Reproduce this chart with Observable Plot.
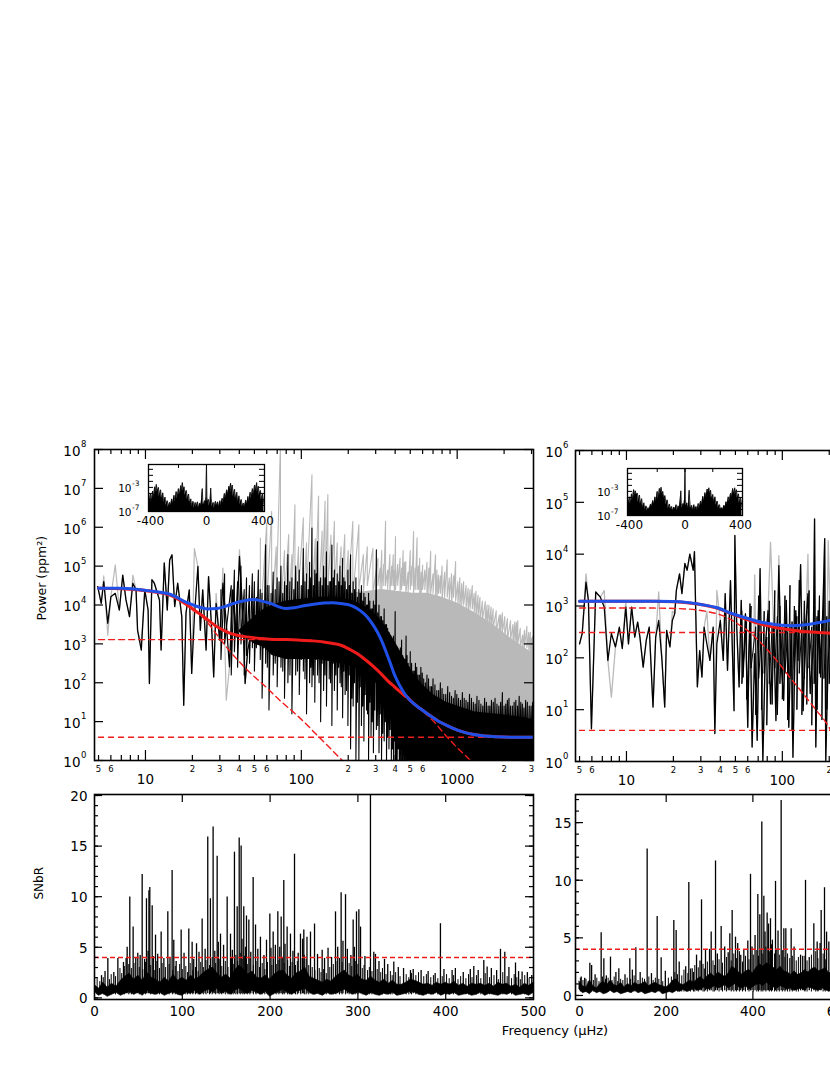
<!DOCTYPE html>
<html>
<head>
<meta charset="utf-8">
<script src="https://cdn.jsdelivr.net/npm/d3@7"></script>
<script src="https://cdn.jsdelivr.net/npm/@observablehq/plot@0.6"></script>
<style>
  html, body { margin: 0; padding: 0; background: #fff; overflow: hidden; }
  #fig { position: relative; width: 830px; height: 1075px; overflow: hidden; font-family: "DejaVu Sans", sans-serif; background: #fff; }
  #xlabel { position: absolute; left: 455px; top: 1023px; width: 200px; text-align: center; font-size: 13px; line-height: 16px; font-family: "DejaVu Sans", sans-serif; }
</style>
</head>
<body>
<div id="fig"><div id="xlabel">Frequency (μHz)</div></div>
<script>
// ======================= DATA =======================
// Power values are stored as log10(ppm^2); frequencies in μHz.

// ---- Panel A (left, log-log) ----
const aLowF = [4.94,5.2,5.4,5.73,6.0,6.4,6.8,7.15,7.5,7.9,8.3,8.7,8.9,9.4,9.9,10.4,10.6,11,11.4,12.3,12.6,13.2,13.8,14.3,14.8,15.4,16.1,17.1,17.6,18.2,19.1,19.8,20.6,21.7,22.5,23.3,24.5,25.4,26.7,27.4,28.4,29.9,31.4,33,34.6,36.3,38.2,40.1,42.2,43.6,45.3,47.6];
const aLowBlack = [4.47,4.04,4.60,3.53,4.21,4.30,3.87,4.77,4.13,3.70, 4.56,4.39,3.35,2.84,4.39,3.87,1.98,4.65,4.56,4.13, 2.84,5.08,3.87,5.16,5.29,3.96,4.56,3.70,1.42,3.79, 4.39,2.24,3.70,4.99,3.35,4.39,2.84,4.73,3.27,2.15, 4.04,3.10,4.56,3.53,2.41,4.39,3.18,5.25,3.70,1.98, 2.84,3.27];
const aLowGray = [4.47,4.04,4.75,3.22,4.21,5.03,3.87,4.77,4.13,3.70, 4.77,4.39,3.35,3.0,4.39,3.87,1.98,4.65,4.56,4.13, 2.84,5.08,3.87,5.16,5.29,3.96,4.56,3.70,1.42,3.79, 4.39,2.24,5.45,4.99,3.35,4.39,2.84,4.73,3.27,2.15, 4.3,3.10,4.95,1.55,2.41,4.39,3.18,5.42,3.70,1.98, 2.84,3.27];

// gray (uncorrected) dense part: solid core + [f, low, high] excursions
const aGrayBandF  = [100,150,200,260,330,420,520,650,800,1000,1300,1700,2200,2700,3088];
const aGrayBandHi = [4.0,4.2,4.3,4.35,4.4,4.35,4.3,4.3,4.2,4.05,3.8,3.5,3.15,2.9,2.75];
const aGrayBandLo = [3.0,3.0,3.0,3.0,1.5,1.0,1.0,1.0,1.0,1.0,1.0,1.0,1.0,1.0,1.0];
const aGraySpikes = [[54.6,3.6,5.72],[60,4.0,6.11],[64.5,3.7,6.41],[69,4.1,5.5],[73.5,3.8,8.2],[78,4.2,5.4],[83,3.9,5.81],[87,4.3,5.3],[91,4.0,6.58],[96,4.4,5.5],[103,4.0,6.24],[108,4.3,5.6],[117,4.1,7.35],[123,4.4,5.7],[129,4.0,6.80],[136,4.3,5.9],[142,4.1,6.67],[148,4.4,6.84],[155,4.2,5.8],[163,4.4,6.15],[170,4.1,5.6],[180,4.3,5.5],[190,4.2,5.81],[200,4.4,5.4],[214,4.2,6.15],[234,4.4,6.06],[250,4.3,5.3],[265,4.5,5.5],[288,4.3,5.46],[310,4.5,5.2],[328,4.4,5.4],[347,4.5,6.15],[370,4.3,5.3],[389,4.5,5.29],[402,4.4,5.76],[430,4.3,5.2],[450,4.5,5.4],[468,4.3,5.12],[500,4.4,5.4],[525,4.3,5.89],[553,4.4,5.73],[575,4.2,5.2],[600,4.4,5.03],[640,4.2,5.1],[676,4.3,5.38],[726,4.2,5.29],[759,4.3,4.77],[800,4.1,5.0],[863,4.2,5.16],[920,4.0,4.8],[977,4.1,5.12],[1040,3.9,4.7],[1100,4.0,4.6],[1175,3.8,4.43],[1250,3.9,4.5],[1320,3.7,4.35],[1400,3.6,4.2],[1514,3.5,4.09],[1600,3.4,4.0],[1700,3.4,3.9],[1862,3.2,3.74],[1950,3.3,3.8],[2100,3.1,3.65],[2344,3.0,3.57],[2450,3.0,3.6],[2630,2.8,3.23],[2800,2.9,3.45],[2950,2.8,3.3],[3050,2.7,3.2]];
const aGrayFill = [[320,4.4,4.95],[338,4.5,5.05],[358,4.4,4.9],[380,4.5,5.0],[395,4.3,4.9],[415,4.5,5.05],[440,4.4,4.95],[459,4.5,5.1],[484,4.3,4.85],[512,4.5,5.0],[538,4.4,4.95],[564,4.4,5.0],[588,4.3,4.85],[620,4.4,4.9],[658,4.3,4.95],[700,4.3,4.8],[742,4.2,4.9],[780,4.3,4.75],[830,4.2,4.85],[890,4.1,4.7],[948,4.2,4.75],[1010,4.0,4.6],[1070,4.0,4.55],[1140,3.9,4.5],[1210,3.9,4.4],[1285,3.8,4.3],[1360,3.7,4.25],[1450,3.6,4.1],[1555,3.5,4.0],[1650,3.4,3.95],[1780,3.3,3.85],[1900,3.3,3.75],[2020,3.2,3.7],[2200,3.1,3.6],[2280,3.0,3.5],[2400,3.0,3.55],[2540,2.9,3.4],[2700,2.9,3.35],[2880,2.8,3.3],[3000,2.8,3.15]];

// black (corrected) dense part: solid core + [f, low, high] excursions
const aBlackBandF  = [40,50,58,65,80,100,130,170,220,260,300,340,380,420,470,530,600,700,850,1000,1300,1700,2200,2700,3088];
const aBlackBandHi = [3.35,3.7,3.9,4.0,4.1,4.15,4.2,4.2,4.1,3.95,3.75,3.5,3.2,2.9,2.55,2.2,1.95,1.7,1.5,1.4,1.25,1.2,1.15,1.1,1.05];
const aBlackBandLo = [3.3,3.0,2.9,2.7,2.6,2.6,2.6,2.5,2.4,2.2,2.0,1.7,1.3,0.9,0.4,-0.5,-0.5,-0.5,-0.5,-0.5,-0.5,-0.5,-0.5,-0.5,-0.5];
const aBlackSpikes = [[50,2.3,4.6],[53,3.0,4.9],[56,1.6,4.3],[59,2.5,5.55],[62,1.3,4.5],[66,2.2,4.85],[70,1.9,4.7],[74,2.4,5.0],[78,1.6,4.6],[82,2.0,5.3],[87,1.2,4.7],[92,2.2,5.0],[97,1.7,4.9],[103,2.3,5.45],[108,1.2,4.8],[113,2.0,5.1],[117,1.9,5.98],[122,1.5,4.9],[127,2.2,5.63],[133,1.0,4.7],[139,1.8,5.0],[145,1.4,5.37],[151,2.1,4.6],[157,0.9,5.54],[163,1.8,4.9],[170,1.3,4.8],[177,2.0,5.0],[184,1.1,5.2],[191,1.7,4.6],[199,0.9,4.9],[207,0.3,5.29],[215,1.4,4.6],[224,0.0,4.7],[234,0.0,4.4],[243,0.9,4.5],[252,0.5,4.3],[262,1.3,4.0],[270,0.0,4.3],[280,0.6,3.9],[290,0.2,4.1],[303,0.8,5.42],[315,0.2,4.0],[327,0.0,3.7],[340,0.5,3.9],[352,0.0,3.5],[365,0.3,3.3],[378,0.0,3.1],[390,0.0,3.2],[400,0.0,3.83],[412,0.0,2.9],[425,0.0,2.7],[440,0.0,3.1],[455,0.0,2.6],[470,0.0,3.2],[485,0.0,2.5],[500,0.0,2.8],[520,0.0,2.3],[540,0.0,2.5],[560,0.0,2.2],[585,0.0,2.4],[610,0.0,2.1],[640,0.0,2.2],[670,0.0,1.9],[700,0.0,2.1],[740,0.0,1.8],[780,0.0,2.0],[820,0.0,1.7],[870,0.0,1.9],[920,0.0,1.65],[970,0.0,1.8],[1020,0.0,1.6],[1080,0.0,1.75],[1140,0.0,1.55],[1200,0.0,1.7],[1270,0.0,1.5],[1340,0.0,1.65],[1420,0.0,1.45],[1500,0.0,1.6],[1580,0.0,1.4],[1660,0.0,1.55],[1750,0.0,1.6],[1850,0.0,1.4],[1950,0.0,1.75],[2050,0.0,1.45],[2150,0.0,1.6],[2260,0.0,1.4],[2380,0.0,1.55],[2500,0.0,1.65],[2620,0.0,1.45],[2750,0.0,1.55],[2900,0.0,1.4],[3050,0.0,1.5]];
const aBlackFill = [[30.5,2.6,4.4],[32.2,3.0,4.8],[35.5,2.2,4.5],[37.2,2.8,4.9],[39,2.4,4.6],[41,3.0,5.0],[43,2.2,4.4],[44.5,2.7,4.7],[46.5,2.5,4.5],[48.5,2.9,4.8],[51.5,2.9,4.2],[54.5,2.6,4.4],[57.5,2.9,4.1],[60.5,2.4,4.5],[64,2.8,4.3],[68,2.5,4.4],[72,2.9,4.6],[76,2.3,4.3],[80,2.7,4.5],[84.5,2.2,4.6],[89.5,2.8,4.4],[94.5,2.3,4.6],[100,2.6,4.5],[105.5,2.1,4.6],[110.5,2.7,4.4],[115,2.4,4.7],[119.5,2.2,4.5],[124.5,2.6,4.8],[130,2.0,4.6],[136,2.5,4.5],[142,2.2,4.7],[148,2.6,4.5],[154,2.0,4.6],[160,2.5,4.7],[166.5,2.2,4.5],[173.5,2.4,4.6],[180.5,1.9,4.5],[187.5,2.3,4.7],[195,1.8,4.4],[203,2.2,4.5],[211,1.6,4.3],[219.5,2.0,4.4],[229,1.5,4.2],[238.5,1.9,4.3],[247.5,1.4,4.1],[257,1.7,4.2],[266,1.2,4.0],[275,1.5,4.1],[285,1.0,3.9],[296,1.3,4.0],[309,0.9,3.8],[321,1.2,3.7],[333,0.7,3.6],[346,1.0,3.5],[358,0.6,3.4],[371,0.8,3.2],[384,0.3,3.1],[395,0.5,3.0],[406,0.0,2.9],[418,0.3,2.8],[432,0.0,2.9],[447,0.0,2.7],[462,0.0,2.6],[477,0.0,2.7],[492,0.0,2.4],[510,0.0,2.5],[530,0.0,2.3],[550,0.0,2.4],[572,0.0,2.2],[597,0.0,2.25],[625,0.0,2.0],[655,0.0,2.1],[685,0.0,1.9],[720,0.0,1.95],[760,0.0,1.8],[800,0.0,1.85],[845,0.0,1.7],[895,0.0,1.75],[945,0.0,1.6],[995,0.0,1.7],[1050,0.0,1.55],[1110,0.0,1.6],[1170,0.0,1.5],[1235,0.0,1.6],[1305,0.0,1.45],[1380,0.0,1.55],[1460,0.0,1.4],[1540,0.0,1.5],[1620,0.0,1.4],[1705,0.0,1.5],[1800,0.0,1.45],[1900,0.0,1.5],[2000,0.0,1.4],[2100,0.0,1.55],[2200,0.0,1.4],[2320,0.0,1.5],[2440,0.0,1.4],[2560,0.0,1.5],[2680,0.0,1.35],[2820,0.0,1.5],[2980,0.0,1.4]];

const aBlueF = [5,7,10.3,14.5,18.5,22,24.9,28.8,33,36.9,43,49.6,56,63.4,71,79,90,104,120,139,160,178,200,217,240,264,285,307,330,356,375,393,413,433,455,478,520,582,660,745,850,951,1100,1278,1500,1806,2300,3088];
const aBlueP = [4.43,4.43,4.37,4.27,4.06,3.95,3.90,3.91,3.97,4.04,4.11,4.14,4.10,4.04,3.96,3.91,3.93,3.98,4.02,4.05,4.06,4.04,4.01,3.96,3.85,3.70,3.52,3.31,3.05,2.71,2.47,2.24,2.05,1.89,1.75,1.63,1.48,1.33,1.17,1.03,0.91,0.82,0.73,0.67,0.63,0.61,0.60,0.60];
const aRedF = [5,7,10.3,14.5,18.5,21,23.7,26,28.8,32,35,40,45,55,63.4,80,94,115,139,160,178,200,228,260,292,325,356,395,433,478,520,582,660,745,850,951,1100,1278,1500,1806,2300,3088];
const aRedP = [4.43,4.42,4.36,4.25,4.00,3.84,3.70,3.57,3.44,3.34,3.27,3.21,3.18,3.14,3.12,3.11,3.10,3.08,3.05,3.01,2.97,2.88,2.75,2.58,2.41,2.23,2.06,1.90,1.76,1.63,1.48,1.33,1.17,1.03,0.91,0.82,0.73,0.67,0.63,0.61,0.60,0.60];
const aComp1F = [5,8,10,13,16,19,21.5,25,28.8,35,45,57.4,75,94,130,183,210];
const aComp1P = [4.43,4.42,4.40,4.30,4.17,4.0,3.83,3.55,3.23,2.80,2.33,1.94,1.5,1.16,0.60,0.0,-0.25];
const aComp2F = [5,20,60,100,140,180,228,292,356,433,478,540,611,720,863,1000,1216,1350];
const aComp2P = [3.11,3.11,3.11,3.10,3.05,2.95,2.74,2.40,2.05,1.74,1.58,1.42,1.25,0.97,0.60,0.33,0.0,-0.2];
const aWhite = 0.60;

// ---- Panel B (right, log-log) ----
const bF = [5.0,5.2,5.5,5.7,5.96,6.35,6.8,7.2,7.6,8.0, 8.5,9.0,9.4,9.9,10.3,10.8,11.3,11.8,12.2,12.8, 13.4,14,14.8,15.4,16.1,16.9,17.6,18.1,19,19.7, 20.4,20.9,21.9,22.7,23.7,24.5,25.5,26.8,27.3,28.5, 29.5,30.5,31.5,32.8,34.3,36,36.9,38,40,41.8, 43,44.5,46.5,49,49.6,51,52.8,54.5,56,58, 60,62,64,66.5,69,72,75,78,81,84, 88,91,95,98,102,106,110,114,117,122, 126,131,136,141,146,151,158,161,164,170, 176,183,187,190,197,204,210];
const bBlack = [2.27,2.47,3.46,3.11,0.63,3.27,3.17,2.98,1.95,2.47, 2.21,2.59,2.18,2.98,2.27,2.98,2.40,2.69,2.40,1.82, 2.34,2.59,1.05,2.40,2.72,1.95,1.05,2.53,2.21,2.72, 2.85,3.30,3.62,3.24,3.82,3.69,4.0,3.69,4.05,1.44, 2.14,1.63,2.59,2.27,1.95,2.59,0.54,2.27,2.72,1.95, 3.24,1.76,3.49,0.98,4.36,2.59,1.44,3.11,1.63,2.85, 0.66,3.04,0.28,2.08,0.41,3.72,0.02,2.27,2.91,1.11, 2.59,0.79,3.78,1.95,1.18,3.11,0.66,2.59,0.08,2.91, 1.95,3.8,0.98,2.59,3.24,1.31,2.27,4.68,0.28,2.91, 1.63,3.17,4.30,0.02,1.95,2.59,2.91];
const bGray = [2.27,2.47,3.62,3.11,0.63,3.27,3.17,3.3,1.95,1.24, 2.21,2.59,2.18,3.1,2.27,2.98,2.40,2.69,2.40,1.82, 2.34,2.59,1.05,2.40,3.27,1.95,1.05,2.53,2.21,2.9, 2.85,3.30,3.62,3.24,3.82,3.69,4.0,3.69,4.05,1.44, 2.14,1.63,2.59,2.9,1.95,2.59,0.54,3.3,2.72,1.95, 3.24,1.76,3.49,0.98,4.36,2.59,1.44,3.11,1.63,2.85, 0.66,3.04,0.28,3.6,0.41,3.72,0.02,2.27,2.91,4.23, 2.59,0.79,3.97,1.95,1.18,3.11,0.66,2.59,0.08,2.91, 1.95,3.8,0.98,2.59,4.0,1.31,2.27,4.68,0.28,2.91, 1.63,3.17,4.30,0.02,4.26,2.59,2.91];
// extra dense excursions of the black spectrum above ~55 μHz: [f, low, high]
const bBlackFill = [[55,1.5,2.9],[59,1.2,2.7],[63,1.8,3.0],[67.5,0.9,2.6],[70.5,1.6,3.2],[73.5,1.0,2.5],[76.5,1.7,2.9],[79.5,0.7,2.4],[82.5,1.5,3.1],[86,1.1,2.6],[89.5,1.8,3.3],[93,0.9,2.8],[96.5,1.5,3.0],[100,1.2,2.6],[104,1.7,3.2],[108,0.8,2.5],[112,1.6,3.4],[115.5,0.6,2.7],[119.5,1.8,3.0],[124,1.0,2.8],[128.5,1.7,3.5],[133.5,0.9,2.7],[138.5,1.6,3.1],[143.5,1.1,2.9],[148.5,1.8,3.3],[154.5,0.7,2.6],[160,1.5,3.0],[167,1.0,2.8],[173,1.7,3.2],[179.5,0.8,2.7],[185,1.6,3.5],[193,1.0,2.8],[200,1.5,3.1],[207,0.9,2.7]];
const bBlueF = [5,10,15,20,24.3,30,37.7,48,61.8,75,91.6,117,150,180,210,250];
const bBlueP = [3.09,3.09,3.09,3.085,3.07,3.03,2.97,2.85,2.75,2.68,2.64,2.62,2.65,2.69,2.74,2.82];
const bRedF = [5,10,15,20,25,30,38,48,62,75,92,112,136,170,207,250];
const bRedP = [3.09,3.09,3.09,3.08,3.06,3.03,2.96,2.84,2.72,2.64,2.58,2.54,2.51,2.49,2.47,2.46];
const bComp1F = [5,15,25,32,38,44,52,62,75,92,110,136,165,192,207,240];
const bComp1P = [2.96,2.96,2.94,2.9,2.85,2.78,2.65,2.49,2.25,1.95,1.65,1.31,0.99,0.74,0.58,0.37];
const bComp2 = 2.49;
const bWhite = 0.60;
const modelStart = 5, modelEnd = 3088;

// ---- Insets (spectral windows, log10 of power) ----
const insetX = [-410,-400,-392,-385,-378,-370,-364,-358,-350,-343,-336,-328,-320,-312,-304,-296,-288,-280,-272,-264,-256,-248,-240,-232,-224,-216,-208,-200,-192,-184,-178,-172,-166,-160,-152,-144,-136,-128,-120,-112,-104,-96,-88,-80,-72,-64,-56,-48,-40,-34,-30,-26,-20,-14,-8,-3,0,3,8,14,20,26,30,34,40,48,56,64,72,80,88,96,104,112,120,128,136,144,152,160,166,172,178,184,192,200,208,216,224,232,240,248,256,264,272,280,288,296,304,312,320,328,336,343,350,358,364,370,378,385,392,400,410];
const insetAVals = [-5.8,-4.0,-5.5,-3.6,-4.8,-2.9,-4.2,-2.5,-3.8,-3.0, -4.5,-3.4,-5.0,-3.9,-5.6,-4.6,-6.0,-5.2,-6.3,-5.5, -6.1,-4.9,-5.8,-4.3,-5.4,-3.7,-4.9,-3.2,-4.4,-2.7, -3.9,-2.2,-3.6,-2.9,-4.3,-3.5,-5.0,-4.1,-5.7,-4.9, -6.2,-5.3,-6.4,-5.5,-6.2,-5.4,-6.5,-5.6,-6.1,-4.7, -3.2,-5.5,-6.0,-5.2,-5.8,-4.5, 1.0, -4.6,-5.6,-5.0,-6.1,-5.4,-3.1,-4.8,-6.2,-5.5,-6.4, -5.3,-6.1,-5.4,-6.3,-5.2,-6.0,-4.8,-5.6,-4.0,-4.9, -3.4,-4.2,-2.8,-3.5,-2.3,-3.8,-2.6,-4.5,-3.3,-5.0, -3.8,-5.5,-4.4,-5.9,-5.0,-6.2,-5.6,-6.3,-5.1,-5.9, -4.5,-5.4,-3.8,-4.9,-3.2,-4.3,-2.6,-3.7,-2.2,-3.9, -2.8,-4.4,-3.5,-5.2,-4.1,-5.7];
const insetBVals = [-5.6,-3.9,-5.2,-3.4,-4.6,-2.7,-4.0,-2.9,-3.6,-3.3, -4.8,-3.6,-5.2,-4.2,-5.8,-4.9,-6.1,-5.4,-6.2,-5.7, -6.0,-5.1,-5.6,-4.5,-5.2,-3.9,-4.7,-3.0,-4.2,-2.5, -3.7,-2.3,-3.4,-3.0,-4.1,-3.7,-5.2,-4.4,-5.9,-5.1, -6.0,-5.5,-6.3,-5.6,-6.0,-5.2,-6.2,-5.4,-5.8,-4.3, -2.9,-5.0,-5.8,-5.0,-5.5,-4.2, 1.2, -4.3,-5.4,-4.9,-5.9,-5.1,-2.8,-4.5,-6.0,-5.3,-6.2, -5.2,-6.0,-5.5,-6.1,-5.0,-5.8,-4.6,-5.4,-3.8,-4.7, -3.2,-4.0,-2.6,-3.3,-2.4,-3.6,-2.8,-4.3,-3.5,-4.8, -3.9,-5.3,-4.6,-5.7,-5.2,-6.0,-5.7,-6.1,-5.3,-5.7, -4.7,-5.2,-3.9,-4.7,-3.3,-4.1,-2.5,-3.5,-2.4,-3.7, -2.7,-4.2,-3.4,-5.0,-4.0,-5.5];

// ---- Panel C (SNbR, left): noise core every 5 μHz + spikes [f, height] ----
const cNoiseHi = [1.3,0.9,1.5,1.0,1.4,1.1,1.7,2.1,2.4,1.8, 2.2,1.7,2.5,2.0,1.8,1.5,2.0,1.6,2.3,1.7, 2.0,1.7,2.2,1.8,2.1,2.5,2.8,3.0,2.4,2.0, 2.3,1.9,2.7,3.2,2.8,2.3,2.6,2.0,1.9,2.2, 1.8,2.3,2.6,2.7,2.2,1.9,2.4,2.6,3.0,2.1, 1.9,1.7,1.5,1.8,1.6,2.1,2.4,2.7,2.2,2.0, 2.3,1.8,1.7,2.1,1.7,1.5,1.8,1.4,1.7,1.3, 1.3,1.5,1.8,1.7,1.5,1.3,1.4,1.2,1.5,1.3, 1.5,1.3,1.6,1.2,1.4,1.1,1.4,1.3,1.4,1.2, 1.4,1.1,1.5,1.3,1.4,1.1,1.3,1.0,1.4,1.2, 1.5];
const cNoiseLo = [0.6,0.2,0.4,0.1,0.3,0.5,0.2,0.4,0.6,0.3, 0.5,0.2,0.7,0.4,0.3,0.5,0.2,0.4,0.6,0.3, 0.2,0.5,0.4,0.7,0.3,0.6,0.8,0.5,0.9,0.4, 0.6,0.3,0.7,0.9,0.6,0.4,0.7,0.5,0.3,0.6, 0.1,0.4,0.6,0.8,0.5,0.3,0.6,0.7,0.9,0.5, 0.3,0.4,0.2,0.5,0.3,0.4,0.6,0.8,0.5,0.3, 0.6,0.4,0.2,0.5,0.3,0.2,0.4,0.3,0.5,0.2, 0.3,0.4,0.6,0.5,0.3,0.2,0.4,0.3,0.5,0.2, 0.4,0.3,0.5,0.2,0.3,0.4,0.2,0.3,0.5,0.2, 0.4,0.3,0.2,0.4,0.3,0.5,0.2,0.3,0.4,0.2, 0.5];
const cPeaks = [[15.2,3.9],[26.6,3.9],[37.2,5.0],[40.2,9.96],[44,7.0],[49.3,4.4],[54.3,12.2],[59.2,9.8],[62,10.6],[63,10.9],[65.7,9.1],[69.5,6.2],[75.9,6.5],[83.5,8.5],[88.4,12.6],[90.3,5.7],[98.7,6.7],[107.4,6.8],[111.2,5.5],[116.2,5.35],[122.6,7.8],[129,15.9],[132,9.8],[135.1,16.9],[139.7,14.0],[143.5,6.3],[151.1,9.96],[154.9,6.3],[159.4,14.4],[162.5,9.0],[164.8,15.8],[167,15.0],[170,9.0],[173.1,8.1],[175.8,7.7],[180.7,11.9],[183.4,7.2],[189,6.0],[195.9,5.7],[199.7,8.3],[203.5,6.5],[208.8,8.5],[212.6,8.0],[215.6,11.6],[219.4,7.0],[223.2,6.3],[227.8,14.2],[234.6,6.3],[238.4,6.7],[246,6.5],[250.6,7.3],[259.3,4.7],[266,4.9],[274.5,8.5],[280.9,10.4],[285.9,10.2],[294.6,7.7],[298.4,8.5],[301.1,8.7],[303,7.0],[314.3,20.5],[318.1,4.5],[330.3,3.8],[340.9,3.55],[359.9,2.7],[394,7.33],[407.3,2.7],[432,3.1],[443.4,3.7],[447.2,3.05],[462.4,4.8],[467.3,4.5],[479.5,3.45],[487,2.56],
  [8,2.2],[12,2.6],[22,2.5],[33,3.5],[36,3.9],[47,4.0],[52,4.2],[57,3.8],[61,4.6],[67,4.1],[72,4.3],[79,3.9],[86,4.0],[93,3.6],[102,4.4],[113,3.8],[119,4.5],[126,4.8],[137,4.6],[141,5.5],[147,5.2],[157,4.7],[168,5.8],[172,5.0],[178,4.5],[186,4.8],[193,4.2],[201,4.9],[206,5.2],[211,5.0],[217,5.3],[226,4.6],[232,4.4],[237,5.8],[242,6.0],[254,4.3],[262,3.9],[270,4.0],[277,5.0],[283,5.6],[288,4.8],[292,4.2],[296,5.0],[308,4.1],[320,4.3],[324,3.6],[334,3.3],[346,3.0],[352,2.9],[363,2.8],[372,2.7],[380,2.6],[388,2.4],[398,2.8],[411,2.9],[420,2.5],[428,2.8],[437,2.7],[452,2.9],[458,2.7],[472,3.0],[483,2.6],[493,2.5],[498,2.2]];
const cHairs = [[3,1.9],[6,1.6],[10,2.0],[17,1.8],[19,2.3],[24,2.1],[29,2.9],[31,2.4],[34,3.1],[39,3.3],[42,2.9],[45,3.4],[51,3.0],[55,2.8],[58,3.5],[64,3.2],[68,2.7],[71,3.6],[74,2.9],[77,3.4],[81,3.0],[85,3.3],[89,2.7],[92,3.1],[95,2.6],[97,3.3],[100,2.8],[104,3.1],[106,2.5],[109,3.4],[112,2.7],[115,3.0],[118,2.6],[121,3.5],[124,3.0],[127,3.7],[131,3.2],[134,4.0],[138,3.4],[142,3.8],[145,3.1],[149,3.6],[152,3.0],[156,3.9],[158,3.3],[161,4.2],[163,3.6],[166,4.4],[169,3.8],[171,4.1],[174,3.3],[177,3.9],[181,3.2],[184,3.6],[188,3.0],[191,3.4],[194,2.8],[197,3.5],[202,3.2],[204,3.8],[207,3.3],[210,3.7],[214,3.9],[216,3.4],[220,3.7],[222,3.1],[225,3.5],[229,3.2],[231,3.6],[235,3.9],[239,4.2],[241,3.8],[244,3.2],[248,3.0],[251,2.7],[256,2.9],[258,2.5],[261,2.8],[264,2.4],[268,3.0],[272,3.3],[275,3.6],[279,3.9],[282,3.5],[286,3.8],[290,3.4],[293,3.1],[297,3.6],[300,3.3],[305,2.9],[307,3.2],[311,2.7],[313,3.0],[316,2.6],[322,2.8],[326,2.5],[328,2.9],[332,2.3],[337,2.6],[339,2.2],[343,2.5],[348,2.1],[355,2.3],[358,2.0],[361,2.4],[366,2.2],[369,2.5],[375,2.1],[378,2.3],[383,2.0],[386,2.2],[391,1.9],[396,2.1],[401,2.3],[404,1.9],[409,2.2],[414,1.8],[417,2.1],[423,1.9],[426,2.3],[430,2.0],[435,2.2],[440,1.9],[445,2.4],[450,2.0],[455,2.2],[460,1.8],[465,2.5],[470,2.1],[475,1.9],[478,2.3],[481,2.0],[485,1.8],[490,2.2],[495,1.9],[500,2.0]];
const cThreshold = 4;

// ---- Panel D (SNbR, right): noise core every 8 μHz + spikes ----
const dNoiseHi = [1.2,0.8,0.7,1.3,0.8,0.6,1.0,1.2,0.9,1.3, 0.9,0.8,1.1,0.7,1.0,0.8,1.1,0.9,1.0,1.2, 0.8,1.0,1.1,0.9,0.8,0.7,0.9,1.3,1.4,1.0, 0.9,1.1,1.3,1.1,1.4,1.6,1.3,1.7,1.9,1.6, 2.0,1.8,1.6,1.9,2.5,2.3,2.0,1.8,2.1,2.2, 1.9,2.4,2.7,2.5,2.8,2.6,2.4,2.2,2.5,2.1, 2.0,1.8,2.1,1.8,1.9,2.2,2.0,2.3,2.4,2.1, 2.2,2.4,1.9,2.1,1.8,2.0];
const dNoiseLo = [0.5,0.2,0.3,0.1,0.4,0.2,0.3,0.1,0.2,0.4, 0.2,0.3,0.1,0.2,0.3,0.2,0.4,0.2,0.3,0.1, 0.2,0.3,0.2,0.4,0.1,0.2,0.3,0.2,0.4,0.3, 0.5,0.3,0.4,0.6,0.4,0.5,0.7,0.5,0.6,0.8, 0.6,0.7,0.9,0.6,0.8,1.0,0.7,0.6,0.8,0.5, 0.7,0.9,1.0,0.8,1.1,0.9,0.7,0.6,0.8,0.7, 0.5,0.6,0.4,0.5,0.6,0.4,0.7,0.6,0.5,0.4, 0.6,0.5,0.3,0.5,0.4,0.6];
const dPeaks = [[23.9,2.8],[50,5.44],[56.2,3.18],[71.5,3.33],[90.8,2.31],[116.1,3.18],[130,4.14],[156.1,12.7],[179.2,6.86],[188.4,3.27],[217.6,6.51],[223,5.64],[252.2,9.81],[259.9,2.31],[281.5,8.3],[290.7,3.9],[303.8,5.5],[313.8,11.67],[326.8,5.99],[346.8,5.35],[352.2,7.38],[359.9,5.06],[379.1,3.9],[388.3,4.72],[394.5,10.51],[411.4,8.77],[420.6,15.05],[425.3,8.6],[432.9,7.15],[440.6,6.66],[452.2,9.9],[465.2,16.93],[471.4,5.79],[488.3,5.79],[521.4,9.99],[540.6,6.22],[548.3,4.63],[557.5,7.38],[565.2,9.35],[575.2,4.63],
  [4,1.6],[12,1.5],[28,2.6],[36,1.8],[62,1.7],[84,2.0],[105,1.8],[122,2.2],[140,2.0],[166,1.9],[198,2.1],[230,2.9],[245,2.5],[270,3.5],[278,3.0],[300,4.0],[318,3.6],[335,4.2],[343,3.7],[365,4.5],[372,3.5],[398,4.2],[405,5.2],[416,7.0],[428,5.5],[436,6.2],[445,4.8],[458,5.6],[476,5.8],[495,4.2],[510,3.5],[515,3.4],[530,3.3],[555,4.5],[570,5.5],[585,4.8],[595,4.0]];
const dHairs = [[2,1.5],[8,1.3],[15,1.4],[20,1.2],[32,1.3],[40,1.5],[45,1.2],[53,1.6],[60,1.4],[66,1.5],[75,1.3],[80,1.6],[88,1.2],[95,1.4],[100,1.3],[110,1.5],[118,1.4],[126,1.7],[135,1.3],[145,1.5],[150,1.4],[160,1.6],[170,1.3],[175,1.5],[183,1.4],[192,1.2],[205,1.5],[212,1.6],[220,2.0],[226,1.8],[236,1.7],[241,2.2],[250,1.9],[256,2.3],[263,2.0],[266,2.6],[274,2.4],[285,2.7],[288,2.3],[295,2.9],[308,3.0],[311,2.6],[322,3.1],[330,2.8],[339,3.3],[350,3.0],[356,3.6],[362,3.2],[369,3.8],[376,2.9],[383,3.4],[391,3.1],[401,3.5],[409,3.9],[413,3.4],[419,4.0],[423,3.6],[430,4.2],[438,3.8],[443,4.4],[450,3.6],[455,4.0],[461,3.5],[468,3.9],[474,3.3],[480,3.6],[485,3.2],[491,3.4],[500,3.0],[505,3.3],[520,3.4],[525,3.0],[535,3.5],[545,3.8],[550,3.2],[562,3.6],[567,3.1],[580,3.4],[590,3.0],[598,3.3]];
const dThreshold = 4;

// tick values / labels
const logMinorTicks = [5,6,7,8,9,20,30,40,50,60,70,80,90,200,300,400,500,600,700,800,900,2000,3000];
const logMajorTicks = [10,100,1000];
const logMinorLabels = [5,6,20,30,40,50,60,200,300,400,500,600,2000,3000];

// ======================= DRAWING =======================
const FONT = "DejaVu Sans";
const RED = "#f01c1c", BLUE = "#1f50e8", GRAY = "#b9b9b9", BLACK = "#000";
const fig = document.getElementById("fig");
const SVG_STYLE = "background:transparent;overflow:visible;max-width:none;font-family:'DejaVu Sans',sans-serif;";

function place(svg, left, top) {
  svg.style.position = "absolute";
  svg.style.left = left + "px";
  svg.style.top = top + "px";
  fig.appendChild(svg);
}
const fp = (F, P) => F.map((f, i) => ({f, p: 10 ** P[i]}));
const band = (F, lo, hi) => F.map((f, i) => ({f, lo: 10 ** lo[i], hi: 10 ** hi[i]}));
// min/max excursions drawn as one connected trace (high, low, high, low, ...)
const trace = T => d3.sort(T, t => t[0]).flatMap(([f, lo, hi]) => [{f, p: 10 ** hi}, {f, p: 10 ** lo}]);

function logPanel(cfg) {
  const W = 439, H = 311, ml = 60, mr = 10, mt = 10, mb = 42;
  const yExps = d3.range(0, cfg.yMaxExp + 1);
  const yVals = yExps.map(e => 10 ** e);
  const tk = {stroke: BLACK, strokeWidth: 1.2};
  const minorLab = logMinorLabels.filter(d => d <= cfg.labelMax);
  const majorLab = logMajorTicks.filter(d => d <= cfg.labelMax);
  const marks = [
    ...cfg.data,
    Plot.tickX(logMinorTicks, {x: d => d, insetTop: H - 5, ...tk}),
    Plot.tickX(logMinorTicks, {x: d => d, insetBottom: H - 5, ...tk}),
    Plot.tickX(logMajorTicks, {x: d => d, insetTop: H - 10, ...tk}),
    Plot.tickX(logMajorTicks, {x: d => d, insetBottom: H - 10, ...tk}),
    Plot.tickY(yVals, {y: d => d, insetRight: W - 9, ...tk}),
    Plot.tickY(yVals, {y: d => d, insetLeft: W - 9, ...tk}),
    Plot.text(minorLab, {x: d => d, text: d => String(Math.round(d / 10 ** Math.floor(Math.log10(d) + 1e-9))), frameAnchor: "bottom", dy: 11, fontSize: 8.5, fontFamily: FONT}),
    Plot.text(majorLab, {x: d => d, text: d => String(d), frameAnchor: "bottom", dy: 23, fontSize: 13.5, fontFamily: FONT}),
    Plot.text(yExps, {y: e => 10 ** e, text: () => "10", frameAnchor: "left", textAnchor: "end", dx: cfg.yLabDx, dy: 2, fontSize: 13.5, fontFamily: FONT}),
    Plot.text(yExps, {y: e => 10 ** e, text: e => String(e), frameAnchor: "left", textAnchor: "start", dx: cfg.yLabDx + 0.5, dy: -5, fontSize: 8.5, fontFamily: FONT}),
    Plot.frame({strokeWidth: 1.6})
  ];
  if (cfg.yTitle) marks.push(Plot.text([cfg.yTitle], {frameAnchor: "left", rotate: -90, dx: -53, dy: 15.5, fontSize: 12.5, fontFamily: FONT}));
  const svg = Plot.plot({
    width: ml + W + mr, height: mt + H + mb,
    marginLeft: ml, marginRight: mr, marginTop: mt, marginBottom: mb,
    style: SVG_STYLE,
    x: {type: "log", domain: [4.71, 3088], axis: null},
    y: {type: "log", domain: [1, 10 ** cfg.yMaxExp], axis: null},
    marks
  });
  place(svg, cfg.left - ml, cfg.top - mt);
}

function insetPanel(cfg) {
  const W = cfg.W, H = 47, ml = 34, mr = 6, mt = 3, mb = 22;
  const rows = insetX.map((x, i) => ({x, v: 10 ** cfg.vals[i]}));
  const decades = d3.range(-7, 1).map(e => 10 ** e);
  const tk = {stroke: BLACK, strokeWidth: 1};
  const svg = Plot.plot({
    width: ml + W + mr, height: mt + H + mb,
    marginLeft: ml, marginRight: mr, marginTop: mt, marginBottom: mb,
    style: SVG_STYLE,
    x: {domain: [-414, 414], axis: null},
    y: {type: "log", domain: [1e-7, 10 ** 0.8], axis: null},
    marks: [
      Plot.areaY(rows, {x: "x", y1: 1e-7, y2: "v", fill: BLACK, clip: true}),
      Plot.line(rows, {x: "x", y: "v", stroke: BLACK, strokeWidth: 0.8, clip: true}),
      Plot.tickY(decades, {y: d => d, insetRight: W - 5, ...tk}),
      Plot.tickY(decades, {y: d => d, insetLeft: W - 5, ...tk}),
      Plot.tickX([-200, 0, 200], {x: d => d, insetBottom: H - 4, ...tk}),
      Plot.tickX([-200, 0, 200], {x: d => d, insetTop: H - 4, ...tk}),
      Plot.text([-3, -7], {y: e => 10 ** e, text: () => "10", frameAnchor: "left", textAnchor: "end", dx: -17, dy: 1.5, fontSize: 10.5, fontFamily: FONT}),
      Plot.text([-3, -7], {y: e => 10 ** e, text: e => String(e), frameAnchor: "left", textAnchor: "start", dx: -16.5, dy: -3.5, fontSize: 7.5, fontFamily: FONT}),
      Plot.text([-400, 0, 400], {x: d => d, text: d => String(d), frameAnchor: "bottom", dy: 13, fontSize: 12, fontFamily: FONT}),
      Plot.frame({strokeWidth: 1.3})
    ]
  });
  place(svg, cfg.left - ml, cfg.top - mt);
}

function linPanel(cfg) {
  const W = 439, H = 205, ml = 60, mr = 10, mt = 10, mb = 34;
  const noise = cfg.bins.map((x, i) => ({x, lo: cfg.lo[i], hi: cfg.hi[i]}));
  const peaks = cfg.peaks.map(([x, h]) => ({x, h}));
  const hairs = cfg.hairs.map(([x, h]) => ({x, h}));
  const tk = {stroke: BLACK, strokeWidth: 1.2};
  const marks = [
    Plot.areaY(noise, {x: "x", y1: "lo", y2: "hi", fill: BLACK, stroke: BLACK, strokeWidth: 0.6, clip: true}),
    Plot.ruleX(hairs, {x: "x", y1: 0.3, y2: "h", stroke: BLACK, strokeWidth: 1, clip: true}),
    Plot.ruleX(peaks, {x: "x", y1: 0.4, y2: "h", stroke: BLACK, strokeWidth: 1.3, clip: true}),
    Plot.ruleY([cfg.threshold], {y: d => d, stroke: RED, strokeWidth: 1.5, strokeDasharray: "5,3"}),
    Plot.tickY(cfg.yMinor, {y: d => d, insetRight: W - 4, ...tk}),
    Plot.tickY(cfg.yMinor, {y: d => d, insetLeft: W - 4, ...tk}),
    Plot.tickY(cfg.yMajor, {y: d => d, insetRight: W - 8, ...tk}),
    Plot.tickY(cfg.yMajor, {y: d => d, insetLeft: W - 8, ...tk}),
    Plot.tickX(cfg.xTicks, {x: d => d, insetTop: H - 8, ...tk}),
    Plot.tickX(cfg.xTicks, {x: d => d, insetBottom: H - 8, ...tk}),
    Plot.text(cfg.xLabels, {x: d => d, text: d => String(d), frameAnchor: "bottom", dy: 16, fontSize: 13.5, fontFamily: FONT}),
    Plot.text(cfg.yMajor, {y: d => d, text: d => String(d), frameAnchor: "left", textAnchor: "end", dx: cfg.yLabDx, dy: 1, fontSize: 13.5, fontFamily: FONT}),
    Plot.frame({strokeWidth: 1.6})
  ];
  if (cfg.yTitle) marks.push(Plot.text([cfg.yTitle], {frameAnchor: "left", rotate: -90, dx: -55, dy: 2.5, fontSize: 12, fontFamily: FONT}));
  const svg = Plot.plot({
    width: ml + W + mr, height: mt + H + mb,
    marginLeft: ml, marginRight: mr, marginTop: mt, marginBottom: mb,
    style: SVG_STYLE,
    x: {domain: cfg.xDomain, axis: null},
    y: {domain: cfg.yDomain, axis: null},
    marks
  });
  place(svg, cfg.left - ml, cfg.top - mt);
}

// ---- Panel A ----
const aLowBlackRows = aLowF.map((f, i) => ({f, p: 10 ** aLowBlack[i]}));
const aLowGrayRows = aLowF.map((f, i) => ({f, p: 10 ** aLowGray[i]}));
const dash = {stroke: RED, strokeWidth: 1.4, strokeDasharray: "6,4", clip: true};
logPanel({
  left: 94, top: 449, yMaxExp: 8, yLabDx: -14, yTitle: "Power (ppm²)", labelMax: 3088,
  data: [
    Plot.areaY(band(aGrayBandF, aGrayBandLo, aGrayBandHi), {x: "f", y1: "lo", y2: "hi", fill: GRAY, clip: true}),
    Plot.line(aLowGrayRows, {x: "f", y: "p", stroke: GRAY, strokeWidth: 1.2, clip: true}),
    Plot.line(trace(aGraySpikes.concat(aGrayFill)), {x: "f", y: "p", stroke: GRAY, strokeWidth: 1.1, clip: true}),
    Plot.areaY(band(aBlackBandF, aBlackBandLo, aBlackBandHi), {x: "f", y1: "lo", y2: "hi", fill: BLACK, clip: true}),
    Plot.line(aLowBlackRows, {x: "f", y: "p", stroke: BLACK, strokeWidth: 1.3, clip: true}),
    Plot.line(trace(aBlackSpikes.concat(aBlackFill)), {x: "f", y: "p", stroke: BLACK, strokeWidth: 1.1, clip: true}),
    Plot.line(fp(aComp1F, aComp1P), {x: "f", y: "p", curve: "monotone-x", ...dash}),
    Plot.line(fp(aComp2F, aComp2P), {x: "f", y: "p", curve: "monotone-x", ...dash}),
    Plot.ruleY([10 ** aWhite], {y: d => d, x1: modelStart, x2: modelEnd, ...dash}),
    Plot.line(fp(aRedF, aRedP), {x: "f", y: "p", curve: "monotone-x", stroke: RED, strokeWidth: 3, clip: true}),
    Plot.line(fp(aBlueF, aBlueP), {x: "f", y: "p", curve: "monotone-x", stroke: BLUE, strokeWidth: 3, clip: true})
  ]
});
insetPanel({left: 148, top: 464, W: 116, vals: insetAVals});

// ---- Panel B ----
const bGrayRows = bF.map((f, i) => ({f, p: 10 ** bGray[i]}));
const bBlackRows = bF.map((f, i) => ({f, p: 10 ** bBlack[i]}));
logPanel({
  left: 574.5, top: 450, yMaxExp: 6, yLabDx: -13, labelMax: 200,
  data: [
    Plot.line(bGrayRows, {x: "f", y: "p", stroke: GRAY, strokeWidth: 1.3, clip: true}),
    Plot.line(trace(bBlackFill), {x: "f", y: "p", stroke: BLACK, strokeWidth: 1, clip: true}),
    Plot.line(bBlackRows, {x: "f", y: "p", stroke: BLACK, strokeWidth: 1.3, clip: true}),
    Plot.line(fp(bComp1F, bComp1P), {x: "f", y: "p", curve: "monotone-x", ...dash}),
    Plot.ruleY([10 ** bComp2], {y: d => d, x1: modelStart, x2: modelEnd, ...dash}),
    Plot.ruleY([10 ** bWhite], {y: d => d, x1: modelStart, x2: modelEnd, ...dash}),
    Plot.line(fp(bRedF, bRedP), {x: "f", y: "p", curve: "monotone-x", stroke: RED, strokeWidth: 3, clip: true}),
    Plot.line(fp(bBlueF, bBlueP), {x: "f", y: "p", curve: "monotone-x", stroke: BLUE, strokeWidth: 3, clip: true})
  ]
});
insetPanel({left: 627, top: 468, W: 115, vals: insetBVals});

// ---- Panel C ----
linPanel({
  left: 94, top: 794, bins: d3.range(0, 501, 5), lo: cNoiseLo, hi: cNoiseHi, peaks: cPeaks, hairs: cHairs,
  threshold: cThreshold, xDomain: [0, 500], yDomain: [-0.16, 20.1],
  yMinor: d3.range(0, 21), yMajor: [0, 5, 10, 15, 20], xTicks: [100, 200, 300, 400],
  xLabels: [0, 100, 200, 300, 400, 500], yLabDx: -7, yTitle: "SNbR"
});

// ---- Panel D ----
linPanel({
  left: 575, top: 794, bins: d3.range(0, 601, 8), lo: dNoiseLo, hi: dNoiseHi, peaks: dPeaks, hairs: dHairs,
  threshold: dThreshold, xDomain: [-9.2, 1003.5], yDomain: [-0.35, 17.44],
  yMinor: d3.range(0, 18), yMajor: [0, 5, 10, 15], xTicks: [200, 400, 600, 800],
  xLabels: [0, 200, 400, 600], yLabDx: -4
});
</script>
</body>
</html>
